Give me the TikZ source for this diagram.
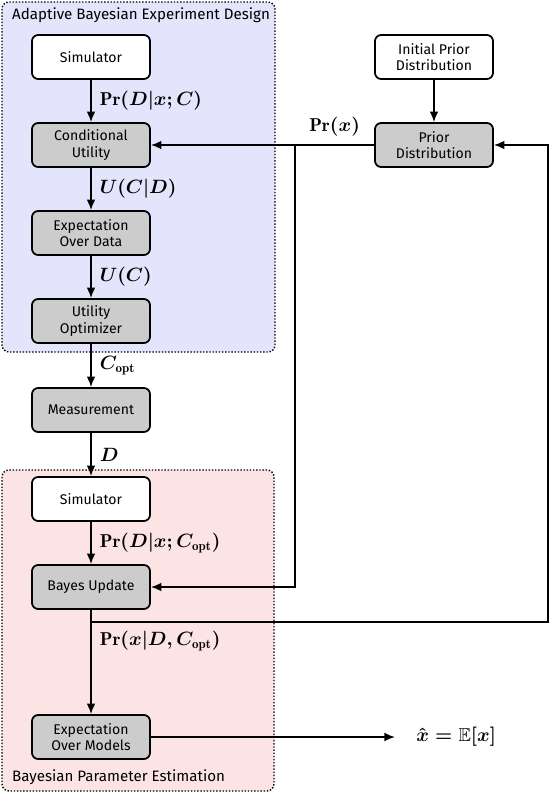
\documentclass[tikz,border=0pt]{standalone}
\usepackage{amsmath,amssymb}
\usepackage{fontspec}
\setsansfont{Fira Sans}
\usetikzlibrary{arrows.meta}
\tikzset{edge/.style={line width=1pt,-{Latex[length=6pt,width=5pt]}}}
\tikzset{block/.style={rectangle,rounded corners=3.5pt,draw,line width=1pt,minimum width=2.36cm,minimum height=0.88cm,align=center,font=\sffamily\footnotesize,fill=white}}
\tikzset{gblock/.style={block,fill=black!20}}
\tikzset{lbl/.style={font=\fontsize{10.6}{12}\selectfont\boldmath,inner sep=4.5pt}}
\tikzset{panel/.style={rounded corners=4pt,draw,densely dotted,line width=0.8pt}}
\definecolor{designbg}{RGB}{228,228,252}
\definecolor{estbg}{RGB}{253,228,228}

\begin{document}
\begin{tikzpicture}
    \useasboundingbox (0,0) rectangle (11,-15.88);
    % panels
    \filldraw[panel,fill=designbg] (0.04,-0.04) rectangle (5.5,-7.04);
    \node[anchor=west,font=\sffamily\fontsize{8.6}{10}\selectfont] (dtitle) at (0.12,-0.3) {Adaptive Bayesian Experiment Design};
    \filldraw[panel,fill=estbg] (0.04,-9.4) rectangle (5.48,-15.82);
    \node[anchor=west,font=\sffamily\fontsize{8.6}{10}\selectfont] (etitle) at (0.12,-15.54) {Bayesian Parameter Estimation};
    % design loop
    \node[block] (sim1) at (1.82,-1.14) {Simulator};
    \node[gblock] (cond) at (1.82,-2.90) {Conditional\\Utility};
    \node[gblock] (expd) at (1.82,-4.66) {Expectation\\Over Data};
    \node[gblock] (opt) at (1.82,-6.42) {Utility\\Optimizer};
    \node[gblock] (meas) at (1.82,-8.20) {Measurement};
    \draw[edge] (sim1) -- node[auto,lbl] {$\Pr(D|\boldsymbol{x};C)$} (cond);
    \draw[edge] (cond) -- node[auto,lbl] {$U(C|D)$} (expd);
    \draw[edge] (expd) -- node[auto,lbl] {$U(C)$} (opt);
    \draw[edge] (opt) -- node[auto,lbl] {$C_{\mathrm{opt}}$} (meas);
    % estimation
    \node[block] (sim2) at (1.82,-9.98) {Simulator};
    \node[gblock] (bayes) at (1.82,-11.74) {Bayes Update};
    \node[gblock] (expm) at (1.82,-14.74) {Expectation\\Over Models};
    \node[anchor=west,lbl,inner xsep=0.42cm] (est) at (7.9,-14.74) {$\hat{\boldsymbol{x}}=\mathbb{E}[\boldsymbol{x}]$};
    \draw[edge] (meas) -- node[auto,lbl] {$D$} (sim2.north);
    \draw[edge] (sim2) -- node[auto,lbl] {$\Pr(D|\boldsymbol{x};C_{\mathrm{opt}})$} (bayes);
    \draw[edge] (bayes) -- node[auto,lbl,pos=0.3] {$\Pr(\boldsymbol{x}|D,C_{\mathrm{opt}})$} (expm);
    \draw[edge] (expm) -- (est);
    % prior
    \node[block] (init) at (8.68,-1.14) {Initial Prior\\Distribution};
    \node[gblock] (prior) at (8.68,-2.90) {Prior\\Distribution};
    \draw[edge] (init) -- (prior);
    \coordinate (split) at (5.9,-2.90);
    \coordinate (back) at (1.82,-12.44);
    \coordinate (rim) at (10.96,-12.44);
    \draw[edge] (prior) -- node[above,lbl] {$\Pr(\boldsymbol{x})$} (split) -- (cond);
    \draw[edge] (split) |- (bayes);
    \draw[edge] (back) -- (rim) |- (prior);
\end{tikzpicture}
\end{document}
